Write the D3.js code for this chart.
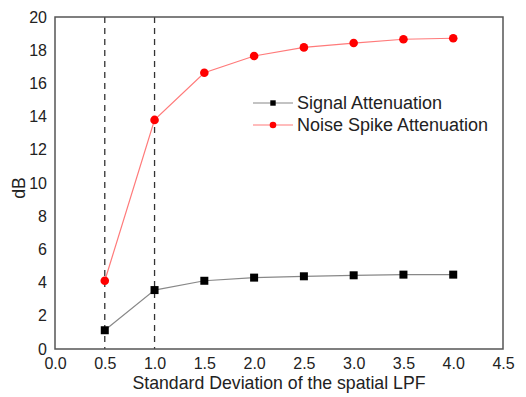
<!DOCTYPE html>
<html>
<head>
<meta charset="utf-8">
<script src="https://cdn.jsdelivr.net/npm/d3@7"></script>
<style>
body{margin:0;background:#fff;}
text{font-family:Arial,"Liberation Sans",sans-serif;fill:#222;}
</style>
</head>
<body>
<svg id="canvas"></svg>
<script>
let sigma=[0.5,1.0,1.5,2.0,2.5,3.0,3.5,4.0];
let signalAtt=[1.13,3.55,4.11,4.3,4.38,4.44,4.48,4.48];
let noiseAtt=[4.11,13.8,16.64,17.65,18.17,18.43,18.66,18.72];
let xTicks=[0,0.5,1,1.5,2,2.5,3,3.5,4,4.5];
let yTicks=[0,2,4,6,8,10,12,14,16,18,20];
let cutoffs=[0.5,1.0];

let width=526,height=397;
let padLeft=55,padRight=503,padTop=17,padBottom=349;

let canvas=d3.select("#canvas").attr('width',width).attr('height',height);

let xscale=d3.scaleLinear().domain([0,4.5]).range([padLeft,padRight]);
let yscale=d3.scaleLinear().domain([0,20]).range([padBottom,padTop]);

// axes (labels only, no tick marks)
let xAxis=d3.axisBottom(xscale).tickValues(xTicks).tickFormat(d3.format('.1f')).tickSize(0).tickPadding(9);
canvas.append('g').attr('transform','translate(0,'+padBottom+')').call(xAxis)
  .call(g=>g.select('.domain').remove())
  .selectAll('text').style('font-size','16px').style('fill','#222');
let yAxis=d3.axisLeft(yscale).tickValues(yTicks).tickFormat(d3.format('d')).tickSize(0).tickPadding(8);
canvas.append('g').attr('transform','translate('+padLeft+',0)').call(yAxis)
  .call(g=>g.select('.domain').remove())
  .selectAll('text').style('font-size','16px').style('fill','#222');

// dashed cutoff lines
canvas.selectAll('line.cut').data(cutoffs).enter().append('line')
  .attr('class','cut')
  .attr('x1',d=>xscale(d)).attr('x2',d=>xscale(d))
  .attr('y1',yscale(20)).attr('y2',yscale(0))
  .attr('stroke','#333').attr('stroke-width',1.3).attr('stroke-dasharray','6,5');

// frame
canvas.append('rect').attr('x',padLeft).attr('y',padTop).attr('width',padRight-padLeft).attr('height',padBottom-padTop)
  .attr('fill','none').attr('stroke','#555').attr('stroke-width',1.5);

let line=d3.line().x(d=>xscale(d[0])).y(d=>yscale(d[1]));
let sigData=sigma.map((s,i)=>[s,signalAtt[i]]);
let noiData=sigma.map((s,i)=>[s,noiseAtt[i]]);

canvas.append('path').datum(sigData).attr('d',line).attr('fill','none').attr('stroke','#888').attr('stroke-width',1.2);
canvas.append('path').datum(noiData).attr('d',line).attr('fill','none').attr('stroke','#ff7a7a').attr('stroke-width',1.2);

canvas.selectAll('rect.sig').data(sigData).enter().append('rect').attr('class','sig')
  .attr('x',d=>xscale(d[0])-4).attr('y',d=>yscale(d[1])-4).attr('width',8).attr('height',8).attr('fill','#000');
canvas.selectAll('circle.noi').data(noiData).enter().append('circle').attr('class','noi')
  .attr('cx',d=>xscale(d[0])).attr('cy',d=>yscale(d[1])).attr('r',4.3).attr('fill','#ff0000');

// legend
let legend=canvas.append('g');
let lx=253,lw=40;
legend.append('line').attr('x1',lx).attr('x2',lx+lw).attr('y1',103).attr('y2',103).attr('stroke','#888').attr('stroke-width',1.2);
legend.append('rect').attr('x',lx+lw/2-2.7).attr('y',103-2.7).attr('width',5.4).attr('height',5.4).attr('fill','#000');
legend.append('text').attr('x',297).attr('y',103).attr('dy','0.35em').style('font-size','18px').text('Signal Attenuation');
legend.append('line').attr('x1',lx).attr('x2',lx+lw).attr('y1',125).attr('y2',125).attr('stroke','#ff7a7a').attr('stroke-width',1.2);
legend.append('circle').attr('cx',lx+lw/2).attr('cy',125).attr('r',3.3).attr('fill','#ff0000');
legend.append('text').attr('x',297).attr('y',125).attr('dy','0.35em').style('font-size','18px').text('Noise Spike Attenuation');

// axis titles
canvas.append('text').attr('x',(padLeft+padRight)/2).attr('y',389).attr('text-anchor','middle').style('font-size','17.7px')
  .text('Standard Deviation of the spatial LPF');
canvas.append('text').attr('transform','translate(25,188) rotate(-90)').attr('text-anchor','middle').style('font-size','17.7px')
  .text('dB');
</script>
</body>
</html>
